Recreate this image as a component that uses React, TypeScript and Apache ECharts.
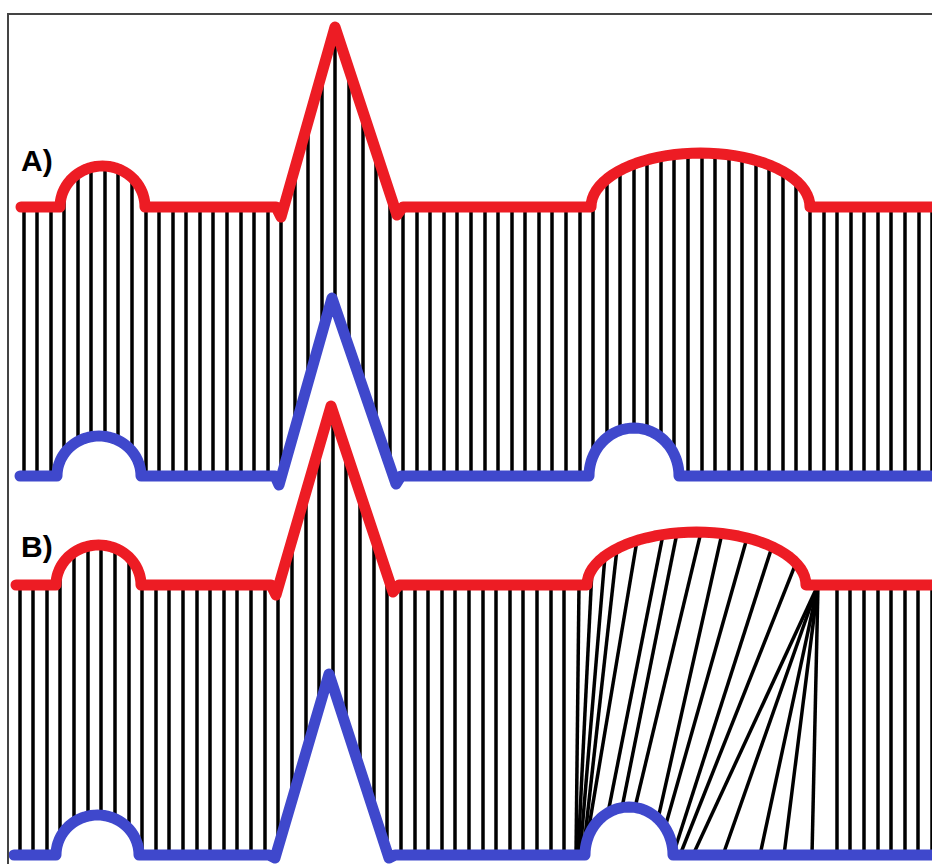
import React, { useEffect, useRef } from "react";
import * as echarts from "echarts";

type Pt = [number, number];
type Seg = Pt | { arc: [number, number, number, number] }; // [x0, x1, baseline, top]

const RED = "#ED1C24";
const BLUE = "#3F48CC";

// ---- curves (vertices; bumps given as arcs x0, x1, baseline, top)
const redA: Seg[] = [
  [21, 207], { arc: [60, 145, 207, 166] }, [276, 207], [281, 217], [335, 27], [397, 215], [403, 207],
  { arc: [591, 810, 207, 153] }, [932, 207],
];
const blueA: Seg[] = [
  [20, 476], { arc: [57, 141, 476, 436] }, [275, 476], [279, 485], [332, 298], [396, 484], [401, 476],
  { arc: [589, 679, 476, 428] }, [932, 476],
];
const redB: Seg[] = [
  [16, 585], { arc: [56, 141, 585, 545] }, [271, 585], [276, 595], [331, 406], [393, 592], [399, 585],
  { arc: [587, 806, 585, 532] }, [932, 585],
];
const blueB: Seg[] = [
  [14, 855], { arc: [56, 139, 855, 815] }, [269, 855], [275, 858], [329, 674], [389, 858], [395, 855],
  { arc: [585, 673, 855, 807] }, [932, 855],
];

// ---- sample positions (vertical alignment lines)
const samplesA = { first: 23.3, step: 13.56, count: 68 };
const samplesB = { first: 19.3, step: 13.62, count: 68, warpFrom: 41, warpTo: 59 };

// ---- warped alignment in B: [x on red, x on blue]
const warpB: [number, number][] = [
  [579, 576], [592, 578], [605, 580], [617, 583], [637, 586], [663, 608], [677, 622], [701, 635],
  [722, 658], [747, 665], [772, 673], [796, 680], [818, 693], [818, 723], [818, 760], [818, 784], [818, 812],
];

const labels = [
  { text: "A)", x: 21, y: 160 },
  { text: "B)", x: 21, y: 546 },
];

function expand(segs: Seg[]): Pt[] {
  const out: Pt[] = [];
  for (const s of segs) {
    if (Array.isArray(s)) out.push(s);
    else {
      const [x0, x1, base, top] = s.arc;
      const cx = (x0 + x1) / 2, rx = (x1 - x0) / 2, ry = base - top;
      const N = 40;
      for (let k = 0; k <= N; k++) {
        const t = Math.PI * (1 - k / N);
        out.push([cx + rx * Math.cos(t), base - ry * Math.sin(t)]);
      }
    }
  }
  return out;
}

function yAt(pts: Pt[], x: number): number {
  for (let k = 0; k < pts.length - 1; k++) {
    const [x0, y0] = pts[k];
    const [x1, y1] = pts[k + 1];
    if (x >= x0 && x <= x1) {
      if (x1 === x0) return Math.min(y0, y1);
      return y0 + ((y1 - y0) * (x - x0)) / (x1 - x0);
    }
  }
  return x < pts[0][0] ? pts[0][1] : pts[pts.length - 1][1];
}

export default function App() {
  const ref = useRef<HTMLDivElement>(null);
  useEffect(() => {
    if (!ref.current) return;
    const chart = echarts.init(ref.current, undefined, { renderer: "svg" });
    const rA = expand(redA), bA = expand(blueA), rB = expand(redB), bB = expand(blueB);

    const conns: { coords: Pt[] }[] = [];
    for (let i = 0; i < samplesA.count; i++) {
      const x = samplesA.first + samplesA.step * i;
      conns.push({ coords: [[x, yAt(rA, x)], [x, yAt(bA, x)]] });
    }
    for (let j = 0; j < samplesB.count; j++) {
      if (j >= samplesB.warpFrom && j <= samplesB.warpTo) continue;
      const x = samplesB.first + samplesB.step * j;
      conns.push({ coords: [[x, yAt(rB, x)], [x, yAt(bB, x)]] });
    }
    for (const [xt, xb] of warpB) {
      conns.push({ coords: [[xt, yAt(rB, xt)], [xb, yAt(bB, xb)]] });
    }

    const curve = (data: Pt[], color: string) => ({
      type: "line",
      data,
      showSymbol: false,
      symbol: "none",
      silent: true,
      z: 3,
      lineStyle: { color, width: 11, cap: "round", join: "round" },
    });

    chart.setOption({
      animation: false,
      backgroundColor: "#ffffff",
      grid: { left: 0, right: 0, top: 0, bottom: 0 },
      xAxis: { type: "value", min: 0, max: 932, show: false },
      yAxis: { type: "value", min: 0, max: 864, inverse: true, show: false },
      series: [
        {
          type: "lines",
          coordinateSystem: "cartesian2d",
          silent: true,
          z: 1,
          data: conns,
          lineStyle: { color: "#000000", width: 3.5, opacity: 1, curveness: 0 },
        },
        curve(rA, RED),
        curve(bA, BLUE),
        curve(rB, RED),
        curve(bB, BLUE),
      ],
      graphic: [
        {
          type: "polyline",
          shape: { points: [[8, 864], [8, 14], [932, 14]] },
          style: { stroke: "#444444", lineWidth: 2, fill: null },
          z: 10,
        },
        ...labels.map((l) => ({
          type: "text",
          x: l.x,
          y: l.y,
          z: 10,
          style: {
            text: l.text,
            fill: "#000000",
            font: 'bold 30px "Liberation Sans", Arial, sans-serif',
            align: "left",
            verticalAlign: "middle",
            textAlign: "left",
            textVerticalAlign: "middle",
          },
        })),
      ],
    });
    return () => chart.dispose();
  }, []);
  return (
    <div
      ref={ref}
      style={{ position: "fixed", left: 0, top: 0, width: 932, height: 864, background: "#fff" }}
    />
  );
}
